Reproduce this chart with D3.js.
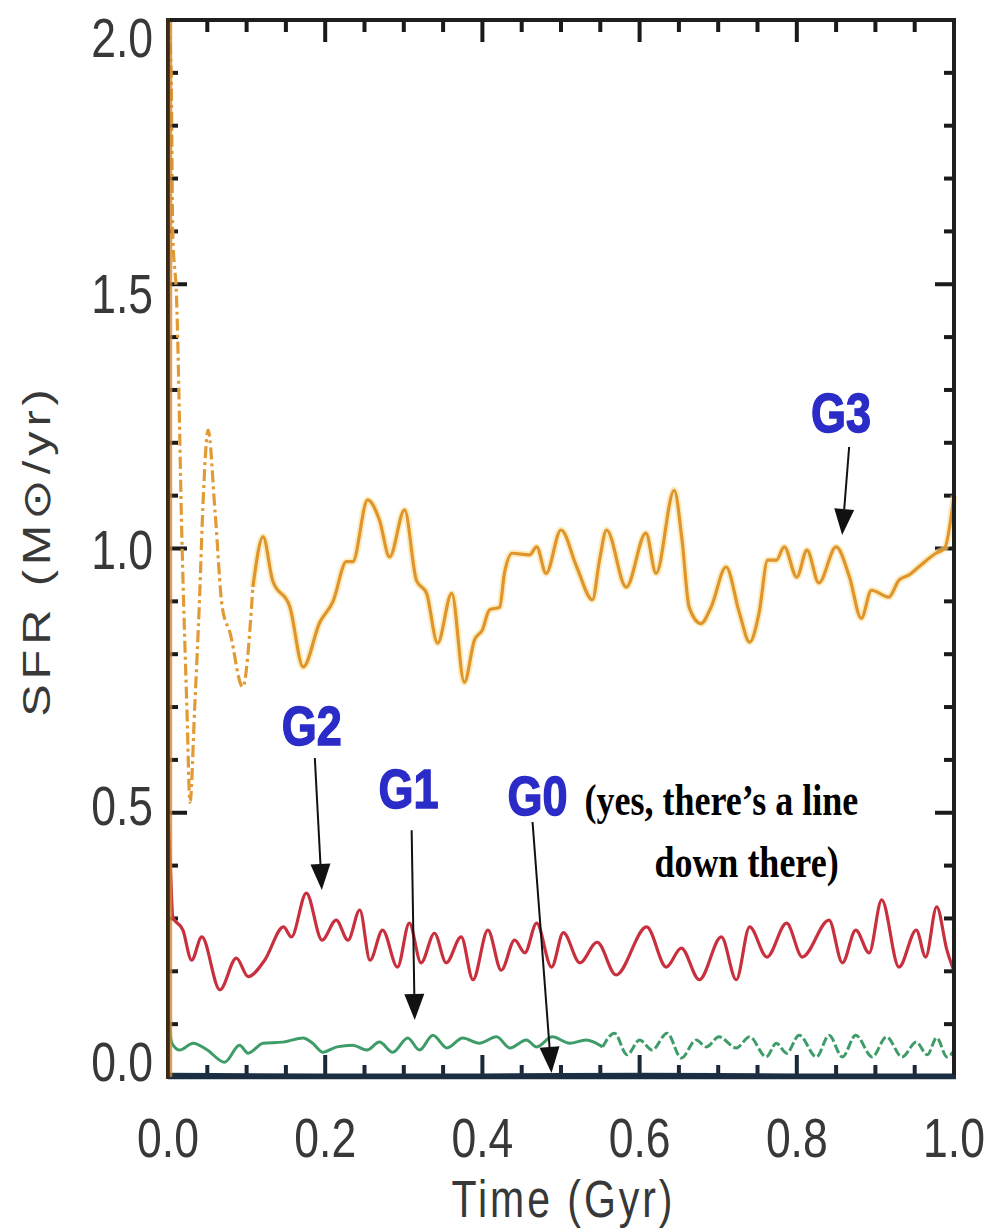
<!DOCTYPE html>
<html>
<head>
<meta charset="utf-8">
<script src="https://cdn.jsdelivr.net/npm/d3@7"></script>
</head>
<body style="margin:0;background:#fff">
<svg id="chart" width="990" height="1232"></svg>
<script>
// ---------------- DATA ----------------
const xTicks = [0, 0.2, 0.4, 0.6, 0.8, 1.0];
const xTickLabels = ["0.0", "0.2", "0.4", "0.6", "0.8", "1.0"];
const yTicks = [0, 0.5, 1.0, 1.5, 2.0];
const yTickLabels = ["0.0", "0.5", "1.0", "1.5", "2.0"];

// G3 (orange)
const g3Time = [0, 0.004, 0.006, 0.011, 0.018, 0.024, 0.028, 0.034, 0.040, 0.045,
  0.051, 0.060, 0.069, 0.079, 0.095, 0.108, 0.121, 0.133, 0.155, 0.172,
  0.193, 0.210, 0.227, 0.235, 0.254, 0.269, 0.282, 0.301, 0.316, 0.329,
  0.343, 0.361, 0.377, 0.390, 0.400, 0.409, 0.422, 0.428, 0.438, 0.460,
  0.469, 0.481, 0.500, 0.520, 0.540, 0.549, 0.558, 0.583, 0.608, 0.621,
  0.644, 0.654, 0.663, 0.678, 0.691, 0.710, 0.727, 0.740, 0.752, 0.763,
  0.774, 0.784, 0.800, 0.813, 0.828, 0.850, 0.867, 0.882, 0.895, 0.917,
  0.930, 0.943, 0.955, 0.977, 0.988, 1.0];
const g3Sfr = [2.0, 1.9, 1.6, 1.47, 1.0, 0.7, 0.52, 0.7, 0.9, 1.1,
  1.224, 1.067, 0.889, 0.84, 0.738, 0.927, 1.022, 0.94, 0.89, 0.776,
  0.86, 0.90, 0.975, 0.975, 1.092, 1.054, 0.984, 1.073, 0.94, 0.915,
  0.821, 0.915, 0.747, 0.827, 0.846, 0.884, 0.889, 0.953, 0.991, 0.988,
  1.003, 0.953, 1.035, 0.965, 0.903, 0.978, 1.035, 0.927, 1.029, 0.953,
  1.11, 1.016, 0.889, 0.858, 0.889, 0.965, 0.878, 0.823, 0.878, 0.978,
  0.978, 1.003, 0.946, 0.997, 0.935, 1.003, 0.946, 0.868, 0.921, 0.908,
  0.940, 0.950, 0.965, 0.991, 1.00, 1.10];

// G2 (red)
const g2Time = [0, 0.003, 0.006, 0.019, 0.030, 0.043, 0.066, 0.087, 0.102, 0.123,
  0.147, 0.157, 0.176, 0.196, 0.214, 0.229, 0.244, 0.257, 0.273, 0.292,
  0.307, 0.322, 0.339, 0.354, 0.373, 0.388, 0.407, 0.424, 0.441, 0.454,
  0.469, 0.488, 0.503, 0.524, 0.546, 0.570, 0.609, 0.634, 0.653, 0.676,
  0.704, 0.723, 0.740, 0.762, 0.787, 0.807, 0.841, 0.858, 0.875, 0.892,
  0.908, 0.930, 0.952, 0.964, 0.978, 0.991, 1.0];
const g2Sfr = [0.5, 0.4, 0.303, 0.278, 0.221, 0.265, 0.165, 0.225, 0.19, 0.221,
  0.284, 0.265, 0.348, 0.259, 0.297, 0.259, 0.316, 0.221, 0.278, 0.208,
  0.291, 0.216, 0.272, 0.216, 0.265, 0.184, 0.278, 0.202, 0.259, 0.235,
  0.291, 0.208, 0.273, 0.216, 0.255, 0.193, 0.284, 0.208, 0.244, 0.184,
  0.265, 0.184, 0.284, 0.227, 0.291, 0.227, 0.297, 0.216, 0.278, 0.235,
  0.335, 0.208, 0.278, 0.227, 0.322, 0.24, 0.20];

// G1 (green)
const g1Time = [0, 0.005, 0.015, 0.032, 0.050, 0.072, 0.091, 0.102, 0.121, 0.146,
  0.172, 0.184, 0.197, 0.215, 0.235, 0.253, 0.269, 0.286, 0.305, 0.320,
  0.337, 0.355, 0.375, 0.396, 0.418, 0.435, 0.456, 0.469, 0.489, 0.511,
  0.532, 0.553, 0.568, 0.584, 0.600, 0.616, 0.635, 0.653, 0.672, 0.685,
  0.701, 0.723, 0.740, 0.761, 0.774, 0.787, 0.803, 0.825, 0.841, 0.858,
  0.875, 0.896, 0.914, 0.934, 0.952, 0.966, 0.978, 0.991, 1.0];
const g1Sfr = [0.12, 0.064, 0.051, 0.064, 0.051, 0.028, 0.06, 0.045, 0.064, 0.066,
  0.074, 0.064, 0.047, 0.057, 0.06, 0.051, 0.066, 0.047, 0.074, 0.051,
  0.079, 0.055, 0.074, 0.064, 0.076, 0.055, 0.07, 0.057, 0.076, 0.064,
  0.07, 0.057, 0.083, 0.042, 0.07, 0.051, 0.083, 0.036, 0.07, 0.057,
  0.076, 0.055, 0.076, 0.038, 0.064, 0.045, 0.079, 0.038, 0.079, 0.038,
  0.079, 0.038, 0.076, 0.038, 0.066, 0.042, 0.074, 0.038, 0.05];

// G0 (essentially zero, lies on the axis)
const g0Time = [0, 0.2, 0.4, 0.6, 0.8, 1.0];
const g0Sfr = [0.005, 0.004, 0.004, 0.005, 0.004, 0.004];

// Annotations (data coordinates)
const annLabels = ["G3", "G2", "G1", "G0"];
const annLabelT = [0.8564, 0.183, 0.306, 0.470];
const annLabelV = [1.2204, 0.628, 0.509, 0.4957];
const arrowFromT = [0.8666, 0.1868, 0.310, 0.4638];
const arrowFromV = [1.192, 0.6036, 0.467, 0.4825];
const arrowToT = [0.8577, 0.1957, 0.3139, 0.4879];
const arrowToV = [1.0255, 0.3538, 0.1079, 0.0076];
const noteLines = ["(yes, there\u2019s a line", "down there)"];
const noteT = [0.5299, 0.6188];
const noteV = [0.4957, 0.3784];

// ---------------- DRAW ----------------
const svg = d3.select("#chart");
const xS = d3.scaleLinear().domain([0, 1]).range([168, 954]);
const yS = d3.scaleLinear().domain([0, 2]).range([1077, 20]);
const yLab = d3.scaleLinear().domain([0, 2]).range([1061, 37]);
const STRETCH = 1.25;

// --- ticks first (inward on all four sides), thin rects placed by the scales
const xMinor = d3.range(0, 1.0001, 0.05);
const yMinor = d3.range(0, 2.0001, 0.1);
const isMajor = (list, v) => list.some(m => Math.abs(m - v) < 1e-6);
const TW = 4;
const tickG = svg.append("g").attr("class", "ticks");
tickG.append("g").selectAll("rect").data(xMinor).join("rect")
  .attr("x", d => xS(d) - TW / 2).attr("width", TW)
  .attr("y", d => yS(0) - (isMajor(xTicks, d) ? 22 : 12)).attr("height", d => isMajor(xTicks, d) ? 22 : 12)
  .attr("fill", "#1a2838");
tickG.append("g").selectAll("rect").data(xMinor).join("rect")
  .attr("x", d => xS(d) - TW / 2).attr("width", TW)
  .attr("y", yS(2)).attr("height", d => isMajor(xTicks, d) ? 22 : 12)
  .attr("fill", "#1a1a1a");
tickG.append("g").selectAll("rect").data(yMinor).join("rect")
  .attr("y", d => yS(d) - TW / 2).attr("height", TW)
  .attr("x", xS(0)).attr("width", d => isMajor(yTicks, d) ? 19 : 10)
  .attr("fill", "#1a1a1a");
tickG.append("g").selectAll("rect").data(yMinor).join("rect")
  .attr("y", d => yS(d) - TW / 2).attr("height", TW)
  .attr("x", d => xS(1) - (isMajor(yTicks, d) ? 19 : 10)).attr("width", d => isMajor(yTicks, d) ? 19 : 10)
  .attr("fill", "#1a1a1a");

// --- series
const lineGen = d3.line().x(d => xS(d[0])).y(d => yS(d[1])).curve(d3.curveMonotoneX);
const g3 = d3.zip(g3Time, g3Sfr);
const g2 = d3.zip(g2Time, g2Sfr);
const g1 = d3.zip(g1Time, g1Sfr);
const g0 = d3.zip(g0Time, g0Sfr);

const plot = svg.append("g");
plot.append("path").datum(g3.filter(d => d[0] >= 0.10))
  .attr("d", lineGen).attr("fill", "none").attr("stroke", "#f9df9a")
  .attr("stroke-width", 7).attr("opacity", 0.6).attr("stroke-linejoin", "round");
plot.append("path").datum(g3.filter(d => d[0] <= 0.11))
  .attr("d", lineGen).attr("fill", "none").attr("stroke", "#e29a34")
  .attr("stroke-width", 3.2).attr("stroke-dasharray", "12,4,3,4");
plot.append("path").datum(g3.filter(d => d[0] >= 0.108))
  .attr("d", lineGen).attr("fill", "none").attr("stroke", "#e0952c")
  .attr("stroke-width", 3.2).attr("stroke-linejoin", "round");

plot.append("path").datum(g2).attr("d", lineGen).attr("fill", "none")
  .attr("stroke", "#c8303e").attr("stroke-width", 3.2).attr("stroke-linejoin", "round");

plot.append("path").datum(g1.filter(d => d[0] <= 0.56)).attr("d", lineGen).attr("fill", "none")
  .attr("stroke", "#3e9c68").attr("stroke-width", 3).attr("stroke-linejoin", "round");
plot.append("path").datum(g1.filter(d => d[0] >= 0.553)).attr("d", lineGen).attr("fill", "none")
  .attr("stroke", "#3e9c68").attr("stroke-width", 3).attr("stroke-dasharray", "9,3");

plot.append("path").datum(g0).attr("d", lineGen).attr("fill", "none")
  .attr("stroke", "#1d3146").attr("stroke-width", 3);

// --- frame
const frame = svg.append("g").attr("fill", "none");
frame.append("line").attr("x1", xS(0)).attr("x2", xS(1)).attr("y1", yS(2)).attr("y2", yS(2))
  .attr("stroke", "#1e1e1e").attr("stroke-width", 4);
frame.append("line").attr("x1", xS(1)).attr("x2", xS(1)).attr("y1", yS(2) - 2).attr("y2", yS(0))
  .attr("stroke", "#1e1e1e").attr("stroke-width", 4);
frame.append("line").attr("x1", xS(0)).attr("x2", xS(1) + 2).attr("y1", yS(0)).attr("y2", yS(0))
  .attr("stroke", "#1b2d40").attr("stroke-width", 4.5);
frame.append("line").attr("x1", xS(0)).attr("x2", xS(0)).attr("y1", yS(2) - 2).attr("y2", yS(0) + 2)
  .attr("stroke", "#3a2a18").attr("stroke-width", 4);
frame.append("line").attr("x1", xS(0) + 3).attr("x2", xS(0) + 3).attr("y1", yS(2) + 2).attr("y2", yS(0))
  .attr("stroke", "#d08a35").attr("stroke-width", 2.5).attr("opacity", 0.8);

// --- text helper with vertical stretch
function sText(px, py, str, opts) {
  const g = svg.append("g").attr("transform", `translate(${px},${py}) ${opts.rotate ? "rotate(-90) scale(" + STRETCH + ",1)" : "scale(1," + STRETCH + ")"}`);
  const t = g.append("text").text(str)
    .attr("font-family", opts.family || "'Liberation Sans', Arial, sans-serif")
    .attr("font-size", opts.size)
    .attr("font-weight", opts.weight || "normal")
    .attr("fill", opts.fill || "#333")
    .attr("text-anchor", opts.anchor || "middle");
  if (opts.stroke) t.attr("stroke", opts.stroke).attr("stroke-width", opts.strokeWidth || 1);
  if (opts.length) t.attr("textLength", opts.length).attr("lengthAdjust", "spacing");
  return t;
}

// tick labels
xTicks.forEach((v, i) => sText(xS(v), 1157, xTickLabels[i], { size: 44.5, fill: "#383838" }));
yTicks.forEach((v, i) => sText(153, yLab(v) + 20, yTickLabels[i], { size: 44.5, fill: "#383838", anchor: "end" }));

// axis titles
sText((xS(0) + xS(1)) / 2 + 1, 1217, "Time (Gyr)", { size: 41, fill: "#383838", length: 221 });
sText(50, 553, "SFR (M\u2299/yr)", { size: 39, fill: "#383838", rotate: true, length: 262 });

// annotations
const arrowColor = "#111";
annLabels.forEach((lab, i) => {
  const ax1 = xS(arrowFromT[i]), ay1 = yS(arrowFromV[i]);
  const ax2 = xS(arrowToT[i]), ay2 = yS(arrowToV[i]);
  const ang = Math.atan2(ay2 - ay1, ax2 - ax1);
  const L = 26, Wd = 10;
  const bx = ax2 - L * Math.cos(ang), by = ay2 - L * Math.sin(ang);
  svg.append("line").attr("x1", ax1).attr("y1", ay1).attr("x2", bx).attr("y2", by)
    .attr("stroke", arrowColor).attr("stroke-width", 2);
  const nx = -Math.sin(ang), ny = Math.cos(ang);
  svg.append("polygon")
    .attr("points", [[ax2, ay2], [bx + Wd * nx, by + Wd * ny], [bx - Wd * nx, by - Wd * ny]].map(p => p.join(",")).join(" "))
    .attr("fill", arrowColor);
  sText(xS(annLabelT[i]), yS(annLabelV[i]), lab, { size: 45, weight: "bold", fill: "#2b2bc8", stroke: "#2b2bc8", strokeWidth: 1.2 });
});
noteLines.forEach((s, i) => sText(xS(noteT[i]), yS(noteV[i]), s, {
  size: 36, weight: "bold", fill: "#000", anchor: "start",
  family: "'Liberation Serif', 'Times New Roman', serif"
}));
</script>
</body>
</html>
